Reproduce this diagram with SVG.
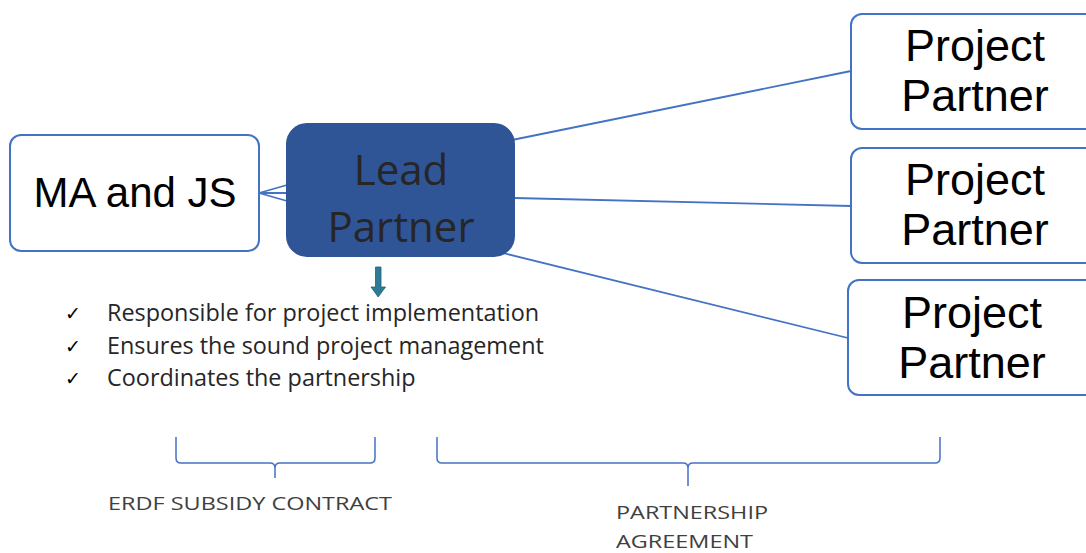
<svg xmlns="http://www.w3.org/2000/svg" width="1086" height="553" viewBox="0 0 1086 553">
<style>
.box{fill:#fff;stroke:#4472C4;stroke-width:2}
.conn{stroke:#4472C4;stroke-width:1.8;fill:none}
.brace{stroke:#4472C4;stroke-width:1.5;fill:none}
.big{font-family:"Open Sans","Liberation Sans",sans-serif;font-size:42px;text-anchor:middle;fill:#262626}
.pp{font-family:"Liberation Sans","Open Sans",sans-serif;font-size:45px;text-anchor:middle;fill:#000}
.bul{font-family:"Open Sans","Liberation Sans",sans-serif;font-size:23.4px;fill:#262626}
.chk{font-family:"DejaVu Sans",sans-serif;font-size:19px;fill:#000}
.lab{font-family:"Open Sans","Liberation Sans",sans-serif;font-size:19px;fill:#404040}
</style>
<rect width="1086" height="553" fill="#fff"/>
<g id="connectors">
<path class="conn" d="M259 193 L287 185 M259 193 L287 193 M259 193 L287 201"/>
<path class="conn" d="M512 140 L851 71"/>
<path class="conn" d="M514 198 L851 206"/>
<path class="conn" d="M503 253 L848 338"/>
</g>
<g id="ma-js">
<rect class="box" x="10" y="135" width="249" height="116" rx="11"/>
<text class="pp" x="135" y="207" style="font-size:42px">MA and JS</text>
</g>
<g id="lead-partner">
<rect x="287" y="124" width="227" height="132" rx="20" fill="#2F5597" stroke="#2F5597" stroke-width="2"/>
<text class="big" x="401" y="185">Lead</text>
<text class="big" x="401" y="242">Partner</text>
</g>
<g id="project-partner-1">
<rect class="box" x="851" y="14" width="250" height="115" rx="11"/>
<text class="pp" x="975" y="61">Project</text>
<text class="pp" x="975" y="111">Partner</text>
</g>
<g id="project-partner-2">
<rect class="box" x="851" y="148" width="250" height="115" rx="11"/>
<text class="pp" x="975" y="195">Project</text>
<text class="pp" x="975" y="245">Partner</text>
</g>
<g id="project-partner-3">
<rect class="box" x="848" y="280" width="250" height="115" rx="11"/>
<text class="pp" x="972" y="328">Project</text>
<text class="pp" x="972" y="378">Partner</text>
</g>
<g id="arrow">
<path d="M375.5 267 L381 267 L381 287 L385.5 287 L378.2 297 L371 287 L375.5 287 Z" fill="#2E7B98" stroke="#1F5F7A" stroke-width="0.8"/>
</g>
<g id="responsibilities">
<text class="chk" x="65" y="320">✓</text>
<text class="bul" x="107" y="321">Responsible for project implementation</text>
<text class="chk" x="65" y="353">✓</text>
<text class="bul" x="107" y="354">Ensures the sound project management</text>
<text class="chk" x="65" y="385">✓</text>
<text class="bul" x="107" y="386">Coordinates the partnership</text>
</g>
<g id="erdf-contract">
<path class="brace" d="M176 437 L176 458 Q176 463 181 463 L270 463 Q275 463 275 468 L275 478 M275 468 Q275 463 280 463 L370 463 Q375 463 375 458 L375 437"/>
<text class="lab" x="250" y="510" text-anchor="middle" textLength="284" lengthAdjust="spacingAndGlyphs">ERDF SUBSIDY CONTRACT</text>
</g>
<g id="partnership-agreement">
<path class="brace" d="M437 437 L437 458 Q437 463 442 463 L683 463 Q688 463 688 468 L688 486 M688 468 Q688 463 693 463 L935 463 Q940 463 940 458 L940 437"/>
<text class="lab" x="616" y="519" textLength="152" lengthAdjust="spacingAndGlyphs">PARTNERSHIP</text>
<text class="lab" x="616" y="548" textLength="137" lengthAdjust="spacingAndGlyphs">AGREEMENT</text>
</g>
</svg>
